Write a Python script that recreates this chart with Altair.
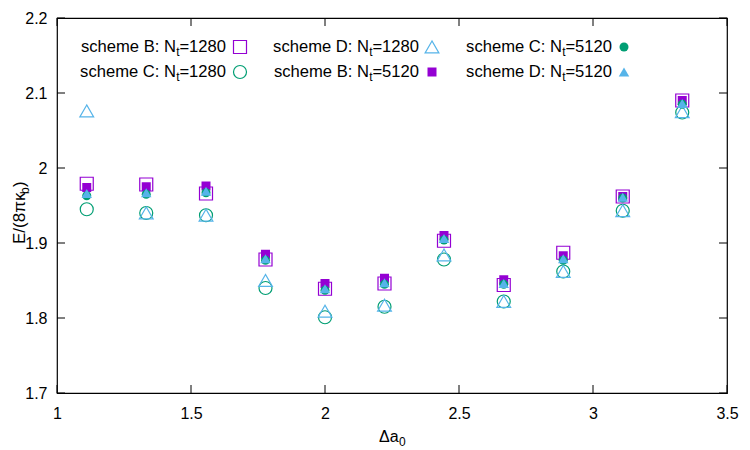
import altair as alt
import pandas as pd

# ---------------- data ----------------
x_vals = [1.111, 1.333, 1.556, 1.778, 2.0, 2.222, 2.444, 2.667, 2.889, 3.111, 3.333]

b_1280 = [1.979, 1.978, 1.966, 1.878, 1.839, 1.846, 1.903, 1.844, 1.887, 1.962, 2.090]
c_1280 = [1.945, 1.940, 1.937, 1.840, 1.801, 1.815, 1.878, 1.822, 1.862, 1.943, 2.074]
d_1280 = [2.076, 1.940, 1.937, 1.850, 1.809, 1.817, 1.884, 1.822, 1.862, 1.943, 2.075]
b_5120 = [1.974, 1.975, 1.976, 1.885, 1.846, 1.853, 1.910, 1.851, 1.883, 1.962, 2.090]
c_5120 = [1.963, 1.965, 1.967, 1.877, 1.837, 1.845, 1.904, 1.845, 1.877, 1.960, 2.085]
d_5120 = [1.966, 1.967, 1.969, 1.879, 1.839, 1.847, 1.906, 1.846, 1.879, 1.961, 2.086]

legend_prefix = ["scheme B: N", "scheme C: N", "scheme D: N", "scheme B: N", "scheme C: N", "scheme D: N"]
legend_suffix = ["=1280", "=1280", "=1280", "=5120", "=5120", "=5120"]
legend_sub = "t"

x_ticks = [1, 1.5, 2, 2.5, 3, 3.5]
y_ticks = [1.7, 1.8, 1.9, 2.0, 2.1, 2.2]

x_title_main, x_title_sub = "\u0394a", "0"
y_title_main, y_title_sub, y_title_end = "E/(8\u03c0\u03ba", "b", ")"

# ---------------- style ----------------
PURPLE, GREEN, BLUE = "#9400D3", "#009E73", "#56B4E9"
FONT = "Liberation Sans"
FS = 16
LFS = 16.6
SUBFS = 12
W, H = 670, 375
LEFT, TOP = 57, 18

styles = [
    # data, shape, filled, color, size
    (b_1280, "square", False, PURPLE, 169),
    (c_1280, "circle", False, GREEN, 169),
    (d_1280, "triangle-up", False, BLUE, 190),
    (b_5120, "square", True, PURPLE, 81),
    (c_5120, "circle", True, GREEN, 81),
    (d_5120, "triangle-up", True, BLUE, 110),
]

xscale = alt.Scale(domain=[1, 3.5], nice=False, zero=False)
yscale = alt.Scale(domain=[1.7, 2.2], nice=False, zero=False)

layers = []

# axes (labels only) attached to an invisible layer
axis_df = pd.DataFrame({"x": x_vals, "y": b_1280})
axes = alt.Chart(axis_df).mark_point(opacity=0).encode(
    x=alt.X("x:Q", scale=xscale,
            axis=alt.Axis(values=x_ticks, format="~g", ticks=False, domain=False, grid=False,
                          labelFlush=False, labelFontSize=FS, labelFont=FONT, labelColor="black",
                          labelPadding=12, title="")),
    y=alt.Y("y:Q", scale=yscale,
            axis=alt.Axis(values=y_ticks, format="~g", ticks=False, domain=False, grid=False,
                          labelFlush=False, labelFontSize=FS, labelFont=FONT, labelColor="black",
                          labelPadding=10, title="")),
)
layers.append(axes)

# inward ticks on all four sides
xt = pd.DataFrame({"x": x_ticks})
yt = pd.DataFrame({"y": y_ticks})
TL = 8
layers.append(alt.Chart(xt).mark_rule(color="black", strokeWidth=1).encode(
    x=alt.X("x:Q", scale=xscale), y=alt.value(H), y2=alt.value(H - TL)))
layers.append(alt.Chart(xt).mark_rule(color="black", strokeWidth=1).encode(
    x=alt.X("x:Q", scale=xscale), y=alt.value(0), y2=alt.value(TL)))
layers.append(alt.Chart(yt).mark_rule(color="black", strokeWidth=1).encode(
    y=alt.Y("y:Q", scale=yscale), x=alt.value(0), x2=alt.value(TL)))
layers.append(alt.Chart(yt).mark_rule(color="black", strokeWidth=1).encode(
    y=alt.Y("y:Q", scale=yscale), x=alt.value(W), x2=alt.value(W - TL)))


def point_mark(shape, filled, color, size):
    if filled:
        return dict(shape=shape, filled=True, color=color, size=size, opacity=1, strokeWidth=0)
    return dict(shape=shape, filled=False, color=color, size=size, opacity=1, strokeWidth=1.2)


# data series
for vals, shape, filled, color, size in styles:
    df = pd.DataFrame({"x": x_vals, "y": vals})
    layers.append(alt.Chart(df).mark_point(**point_mark(shape, filled, color, size)).encode(
        x=alt.X("x:Q", scale=xscale), y=alt.Y("y:Q", scale=yscale)))


def text_layer(txt, px, py, size=FS, align="left", baseline="middle", angle=0):
    kw = dict(font=FONT, fontSize=size, align=align, baseline=baseline, color="black")
    if angle:
        kw["angle"] = angle
    return alt.Chart(pd.DataFrame({"t": [txt]})).mark_text(**kw).encode(
        text="t:N", x=alt.value(px), y=alt.value(py))


# legend (gnuplot-style key, 3 columns x 2 rows, filled column-wise)
col_text_end = [169, 362, 555]
col_sym = [183, 375, 567]
row_y = [29, 54]
SUFW = 46.5
SUBW = 3.5
for i, (vals, shape, filled, color, size) in enumerate(styles):
    c, r = i // 2, i % 2
    te, yy = col_text_end[c], row_y[r]
    layers.append(text_layer(legend_suffix[i], te, yy, size=LFS, align="right"))
    layers.append(text_layer(legend_sub, te - SUFW, yy + 5, size=SUBFS, align="right"))
    layers.append(text_layer(legend_prefix[i], te - SUFW - SUBW, yy, size=LFS, align="right"))
    layers.append(alt.Chart(pd.DataFrame({"t": [legend_prefix[i]]})).mark_point(
        **point_mark(shape, filled, color, size)).encode(x=alt.value(col_sym[c]), y=alt.value(yy)))

# axis titles with subscripts
XT_X, XT_Y = 322, 419
layers.append(text_layer(x_title_main, XT_X, XT_Y))
layers.append(text_layer(x_title_sub, XT_X + 20, XT_Y + 5, size=SUBFS))

YFS = 17
YT_X, YT_Y = -37, 226
W1, WB = 50, 7
layers.append(text_layer(y_title_main, YT_X, YT_Y, size=YFS, angle=270))
layers.append(text_layer(y_title_sub, YT_X + 5, YT_Y - W1, size=SUBFS, angle=270))
layers.append(text_layer(y_title_end, YT_X, YT_Y - W1 - WB, size=YFS, angle=270))

chart = alt.layer(*layers).properties(
    width=W, height=H,
    autosize=alt.AutoSizeParams(type="none"),
    padding={"left": LEFT, "top": TOP, "right": 750 - LEFT - W, "bottom": 450 - TOP - H},
    background="white",
).configure_view(stroke="black", strokeWidth=1.2)

chart.save("out.html", embed_options={"renderer": "svg", "actions": False})
